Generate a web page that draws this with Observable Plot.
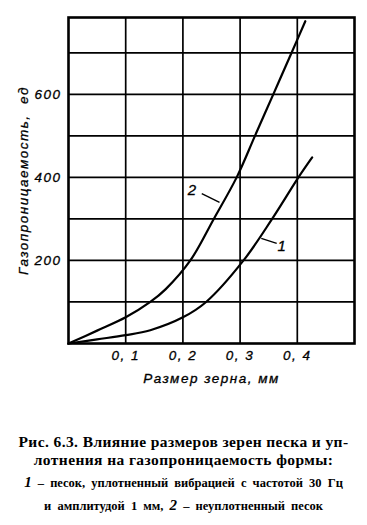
<!DOCTYPE html>
<html>
<head>
<meta charset="utf-8">
<script src="https://cdn.jsdelivr.net/npm/d3@7"></script>
<script src="https://cdn.jsdelivr.net/npm/@observablehq/plot@0.6"></script>
<style>
  html, body { margin: 0; padding: 0; background: #fff; }
  #chart svg { display: block; }
  #caption { font-family: "Liberation Serif", "DejaVu Serif", serif; font-weight: bold; color: #000; text-align: center; white-space: nowrap; }
  #caption .l1 { font-size: 15.5px; line-height: 17.5px; margin-top: 38px; letter-spacing: 0.4px; }
  #caption .l2 { font-size: 15.5px; line-height: 17.5px; letter-spacing: 0.4px; }
  #caption .l3 { font-size: 12.5px; line-height: 22px; margin-top: 3px; word-spacing: 3px; }
  #caption .l4 { font-size: 12.5px; line-height: 22px; word-spacing: 3px; }
  #caption .num { font-size: 15px; font-style: italic; }
</style>
</head>
<body>
<div id="chart"></div>
<div id="caption">
  <div class="l1">Рис. 6.3. Влияние размеров зерен песка и уп-</div>
  <div class="l2">лотнения на газопроницаемость формы:</div>
  <div class="l3"><span class="num">1</span> – песок, уплотненный вибрацией с частотой 30 Гц</div>
  <div class="l4">и амплитудой 1 мм, <span class="num">2</span> – неуплотненный песок</div>
</div>
<script>
// Grain size, mm
const x1 = [0, 0.05, 0.1, 0.143, 0.2, 0.2406, 0.306, 0.356, 0.402, 0.426];
// Curve 1: sand compacted by vibration (30 Hz, 1 mm)
const y1 = [0, 10, 20, 32, 63, 100, 200, 300, 400, 448];
const x2 = [0, 0.05, 0.1, 0.143, 0.17, 0.213, 0.254, 0.294, 0.326, 0.358, 0.39, 0.414];
// Curve 2: uncompacted sand
const y2 = [0, 31, 63, 100, 131, 200, 300, 400, 500, 600, 700, 776];

const xTicks = [0.1, 0.2, 0.3, 0.4];
const xTickLabels = ["0, 1", "0, 2", "0, 3", "0, 4"];
const yTicks = [200, 400, 600];
const yGrid = [100, 200, 300, 400, 500, 600, 700];
const xLabel = "Размер зерна, мм";
const yLabel = "Газопроницаемость,  ед";

// Curve labels and leader lines
const curveNames = ["2", "1"];
const nameX = [0.217, 0.374];
const nameY = [369, 234];
const leadX1 = [0.233, 0.364];
const leadY1 = [361, 241];
const leadX2 = [0.264, 0.337];
const leadY2 = [340, 253];

const line1 = x1.map((x, i) => ({x, y: y1[i]}));
const line2 = x2.map((x, i) => ({x, y: y2[i]}));
const names = curveNames.map((t, i) => ({t, x: nameX[i], y: nameY[i]}));
const leaders = curveNames.map((t, i) => ({x1: leadX1[i], y1: leadY1[i], x2: leadX2[i], y2: leadY2[i]}));

const font = "'Liberation Sans', Arial, sans-serif";

const chart = Plot.plot({
  width: 367,
  height: 395,
  marginLeft: 68,
  marginRight: 13,
  marginTop: 17,
  marginBottom: 52,
  style: {fontFamily: font, fontSize: "13px", fontStyle: "italic", color: "#000", background: "#fff"},
  x: {domain: [0, 0.5]},
  y: {domain: [0, 785]},
  marks: [
    Plot.ruleX(xTicks, {stroke: "#000", strokeWidth: 1.7}),
    Plot.ruleY(yGrid, {stroke: "#000", strokeWidth: 1.7}),
    Plot.frame({stroke: "#000", strokeWidth: 2.6}),
    Plot.line(line1, {x: "x", y: "y", curve: "catmull-rom", stroke: "#000", strokeWidth: 2.2}),
    Plot.line(line2, {x: "x", y: "y", curve: "catmull-rom", stroke: "#000", strokeWidth: 2.2}),
    Plot.link(leaders, {x1: "x1", y1: "y1", x2: "x2", y2: "y2", stroke: "#000", strokeWidth: 1.4}),
    Plot.text(names, {x: "x", y: "y", text: "t", fontSize: 15, fontStyle: "italic", fill: "#000"}),
    Plot.axisX(xTicks, {
      tickSize: 0, tickPadding: 7, fontSize: 13.5, fontStyle: "italic",
      tickFormat: (d, i) => xTickLabels[xTicks.indexOf(d)],
      label: xLabel, labelAnchor: "center", labelOffset: 39, labelArrow: false
    }),
    Plot.axisY(yTicks, {
      tickSize: 0, tickPadding: 7, fontSize: 13.5, fontStyle: "italic",
      label: yLabel, labelAnchor: "center", labelOffset: 50, labelArrow: false
    })
  ]
});
chart.querySelectorAll("text").forEach(t => { t.style.letterSpacing = "1.5px"; t.style.stroke = "#000"; t.style.strokeWidth = "0.3px"; });
document.getElementById("chart").appendChild(chart);
</script>
</body>
</html>
